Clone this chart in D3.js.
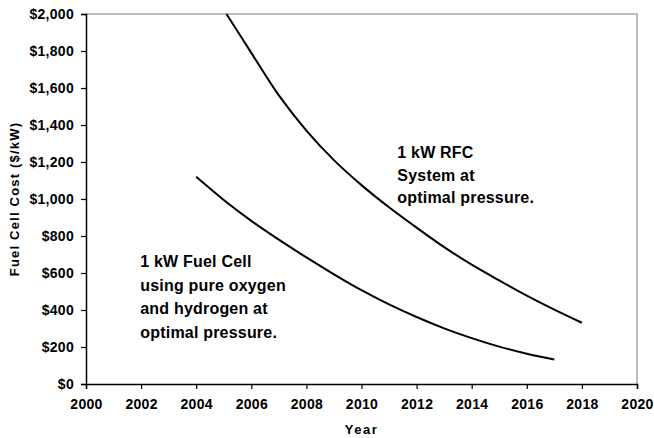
<!DOCTYPE html>
<html>
<head>
<meta charset="utf-8">
<script src="https://cdnjs.cloudflare.com/ajax/libs/d3/7.8.5/d3.min.js"></script>
<style>
    body { margin: 0; background: #fff; }
    svg { display: block; font-family: "Liberation Sans", Arial, sans-serif; }
    .tick text { font-weight: bold; fill: #000; }
</style>
</head>
<body>
<svg id="chart" width="654" height="438"></svg>
<script>
// data
var rfcYears = [2005.1, 2006, 2007, 2008, 2009, 2010, 2011, 2012, 2013, 2014, 2015, 2016, 2017, 2018];
var rfcCost = [2000, 1790, 1560, 1370, 1210, 1075, 955, 845, 740, 645, 560, 478, 402, 331];

var fcYears = [2004, 2005, 2006, 2007, 2008, 2009, 2010, 2011, 2012, 2013, 2014, 2015, 2016, 2017];
var fcCost = [1120, 995, 882, 780, 684, 593, 507, 430, 362, 301, 248, 202, 164, 133];

var xTicks = [2000, 2002, 2004, 2006, 2008, 2010, 2012, 2014, 2016, 2018, 2020];
var yTicks = [0, 200, 400, 600, 800, 1000, 1200, 1400, 1600, 1800, 2000];

var rfcLabel = ["1 kW RFC", "System at", "optimal pressure."];
var fcLabel = ["1 kW Fuel Cell", "using pure oxygen", "and hydrogen at", "optimal pressure."];

var margin = {top: 14, right: 17, bottom: 54, left: 86};
var width = 654, height = 438;

var svg = d3.select("#chart");

var x = d3.scaleLinear().domain([2000, 2020]).range([margin.left, width - margin.right]);
var y = d3.scaleLinear().domain([0, 2000]).range([height - margin.bottom, margin.top]);

// gray top and right frame
svg.append("path")
    .attr("d", "M" + x(2000) + "," + y(2000) + "H" + x(2020) + "V" + y(0))
    .attr("fill", "none")
    .attr("stroke", "#a6a6a6")
    .attr("stroke-width", 1.5);

var xAxis = d3.axisBottom(x).tickValues(xTicks).tickFormat(d3.format("d")).tickSize(5).tickPadding(10);
svg.append("g")
    .attr("class", "axis x-axis")
    .attr("transform", "translate(0," + y(0) + ")")
    .call(xAxis)
    .call(function (g) {
        g.select(".domain").attr("stroke", "#000").attr("stroke-width", 1.5);
        g.selectAll(".tick line").attr("stroke", "#000").attr("stroke-width", 1.2);
        g.selectAll(".tick text").attr("font-size", 14).attr("font-family", "Liberation Sans, Arial, sans-serif")
            .attr("letter-spacing", 0.3);
    });

var yAxis = d3.axisLeft(y).tickValues(yTicks).tickFormat(function (d) { return "$" + d3.format(",")(d); })
    .tickSize(5).tickPadding(7);
svg.append("g")
    .attr("class", "axis y-axis")
    .attr("transform", "translate(" + x(2000) + ",0)")
    .call(yAxis)
    .call(function (g) {
        g.select(".domain").attr("stroke", "#000").attr("stroke-width", 1.5);
        g.selectAll(".tick line").attr("stroke", "#000").attr("stroke-width", 1.2);
        g.selectAll(".tick text").attr("font-size", 14).attr("font-family", "Liberation Sans, Arial, sans-serif")
            .attr("letter-spacing", 0.3);
    });

// axis titles
svg.append("text")
    .attr("x", x(2010))
    .attr("y", 434)
    .attr("text-anchor", "middle")
    .attr("font-size", 13)
    .attr("font-weight", "bold")
    .attr("letter-spacing", 1.5)
    .text("Year");

svg.append("text")
    .attr("transform", "translate(19," + y(1000) + ") rotate(-90)")
    .attr("text-anchor", "middle")
    .attr("font-size", 13)
    .attr("font-weight", "bold")
    .attr("letter-spacing", 1.2)
    .text("Fuel Cell Cost ($/kW)");

// curves
var line = d3.line()
    .x(function (d) { return x(d[0]); })
    .y(function (d) { return y(d[1]); })
    .curve(d3.curveCatmullRom);

svg.append("path")
    .datum(d3.zip(rfcYears, rfcCost))
    .attr("d", line)
    .attr("fill", "none")
    .attr("stroke", "#000")
    .attr("stroke-width", 2);

svg.append("path")
    .datum(d3.zip(fcYears, fcCost))
    .attr("d", line)
    .attr("fill", "none")
    .attr("stroke", "#000")
    .attr("stroke-width", 2);

// annotations
svg.append("text")
    .attr("font-size", 16)
    .attr("font-weight", "bold")
    .attr("letter-spacing", 0.2)
    .selectAll("tspan")
    .data(rfcLabel)
    .enter()
    .append("tspan")
    .attr("x", x(2011.3))
    .attr("y", function (d, i) { return 158 + i * 22.5; })
    .text(function (d) { return d; });

svg.append("text")
    .attr("font-size", 16)
    .attr("font-weight", "bold")
    .attr("letter-spacing", 0.2)
    .selectAll("tspan")
    .data(fcLabel)
    .enter()
    .append("tspan")
    .attr("x", x(2001.97))
    .attr("y", function (d, i) { return 266.7 + i * 23.8; })
    .text(function (d) { return d; });
</script>
</body>
</html>
